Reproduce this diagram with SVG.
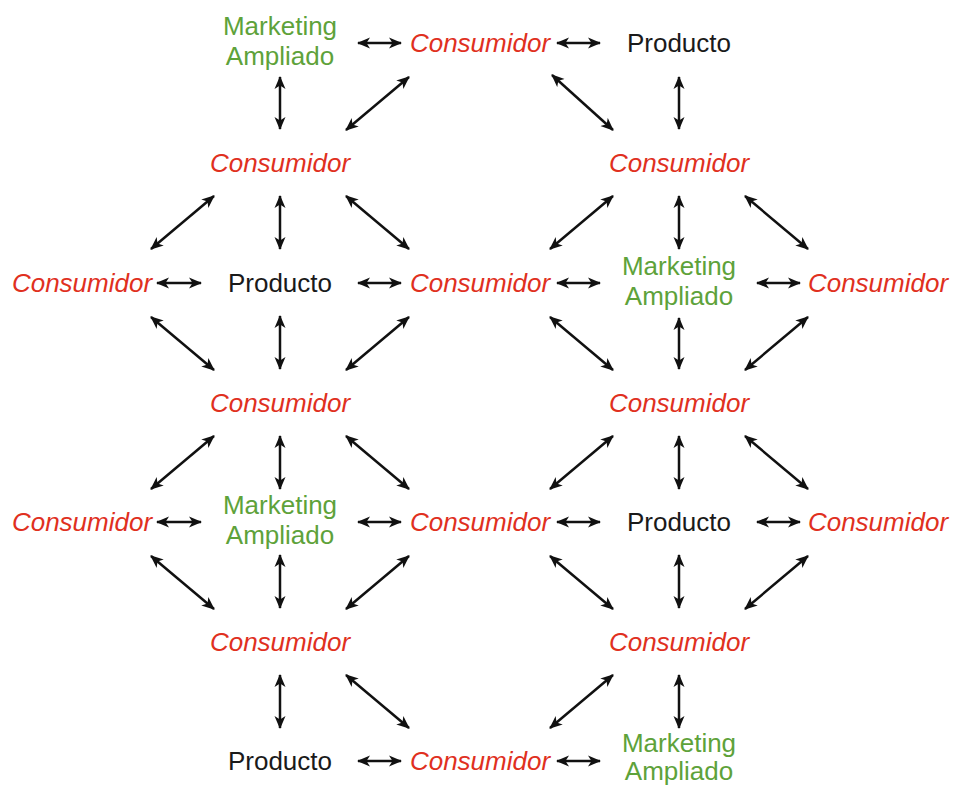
<svg xmlns="http://www.w3.org/2000/svg" width="954" height="787" viewBox="0 0 954 787">
<style>
text{font-family:"Liberation Sans",Arial,sans-serif;font-size:26px;text-anchor:middle}
.c{fill:#e0301e;font-style:italic}
.p{fill:#1a1a1a}
.m{fill:#5ea23a}
.a line{stroke:#111;stroke-width:2.5;marker-start:url(#ah);marker-end:url(#ah)}
</style>
<defs>
<marker id="ah" markerUnits="userSpaceOnUse" markerWidth="14" markerHeight="12" viewBox="0 0 14 12" refX="12" refY="6" orient="auto-start-reverse">
<path d="M0,0.5 L13,6 L0,11.5 L3.5,6 z" fill="#111"/>
</marker>
</defs>
<rect width="954" height="787" fill="#fff"/>
<g id="connectors" class="a">
<line x1="358" y1="43" x2="401" y2="43"/>
<line x1="557" y1="43" x2="600" y2="43"/>
<line x1="157" y1="283" x2="201" y2="283"/>
<line x1="358" y1="283" x2="401" y2="283"/>
<line x1="557" y1="283" x2="600" y2="283"/>
<line x1="757" y1="283" x2="800" y2="283"/>
<line x1="157" y1="522" x2="201" y2="522"/>
<line x1="358" y1="522" x2="401" y2="522"/>
<line x1="557" y1="522" x2="600" y2="522"/>
<line x1="757" y1="522" x2="800" y2="522"/>
<line x1="358" y1="761" x2="401" y2="761"/>
<line x1="557" y1="761" x2="600" y2="761"/>
<line x1="280" y1="77" x2="280" y2="129"/>
<line x1="280" y1="196" x2="280" y2="249"/>
<line x1="280" y1="316" x2="280" y2="369"/>
<line x1="280" y1="436" x2="280" y2="489"/>
<line x1="280" y1="555" x2="280" y2="608"/>
<line x1="280" y1="675" x2="280" y2="728"/>
<line x1="679" y1="77" x2="679" y2="129"/>
<line x1="679" y1="196" x2="679" y2="249"/>
<line x1="679" y1="318" x2="679" y2="369"/>
<line x1="679" y1="436" x2="679" y2="489"/>
<line x1="679" y1="555" x2="679" y2="608"/>
<line x1="679" y1="675" x2="679" y2="728"/>
<line x1="346" y1="130" x2="409" y2="77"/>
<line x1="214" y1="196" x2="151" y2="249"/>
<line x1="346" y1="196" x2="409" y2="249"/>
<line x1="613" y1="130" x2="552" y2="75"/>
<line x1="613" y1="196" x2="550" y2="249"/>
<line x1="745" y1="196" x2="808" y2="249"/>
<line x1="214" y1="370" x2="151" y2="317"/>
<line x1="346" y1="370" x2="409" y2="317"/>
<line x1="214" y1="436" x2="151" y2="489"/>
<line x1="346" y1="436" x2="409" y2="489"/>
<line x1="613" y1="370" x2="550" y2="317"/>
<line x1="745" y1="370" x2="808" y2="317"/>
<line x1="613" y1="436" x2="550" y2="489"/>
<line x1="745" y1="436" x2="808" y2="489"/>
<line x1="214" y1="609" x2="151" y2="556"/>
<line x1="346" y1="609" x2="409" y2="556"/>
<line x1="346" y1="675" x2="409" y2="728"/>
<line x1="613" y1="609" x2="550" y2="556"/>
<line x1="745" y1="609" x2="808" y2="556"/>
<line x1="613" y1="675" x2="550" y2="728"/>
</g>
<g id="n0a"><text class="m" x="280" y="35">Marketing</text><text class="m" x="280" y="65">Ampliado</text></g>
<g id="n0b"><text class="c" x="480" y="52">Consumidor</text></g>
<g id="n0c"><text class="p" x="679" y="52">Producto</text></g>
<g id="n1a"><text class="c" x="280" y="172">Consumidor</text></g>
<g id="n1b"><text class="c" x="679" y="172">Consumidor</text></g>
<g id="n2a"><text class="c" x="82" y="292">Consumidor</text></g>
<g id="n2b"><text class="p" x="280" y="292">Producto</text></g>
<g id="n2c"><text class="c" x="480" y="292">Consumidor</text></g>
<g id="n2d"><text class="m" x="679" y="275">Marketing</text><text class="m" x="679" y="305">Ampliado</text></g>
<g id="n2e"><text class="c" x="878" y="292">Consumidor</text></g>
<g id="n3a"><text class="c" x="280" y="412">Consumidor</text></g>
<g id="n3b"><text class="c" x="679" y="412">Consumidor</text></g>
<g id="n4a"><text class="c" x="82" y="531">Consumidor</text></g>
<g id="n4b"><text class="m" x="280" y="514">Marketing</text><text class="m" x="280" y="544">Ampliado</text></g>
<g id="n4c"><text class="c" x="480" y="531">Consumidor</text></g>
<g id="n4d"><text class="p" x="679" y="531">Producto</text></g>
<g id="n4e"><text class="c" x="878" y="531">Consumidor</text></g>
<g id="n5a"><text class="c" x="280" y="651">Consumidor</text></g>
<g id="n5b"><text class="c" x="679" y="651">Consumidor</text></g>
<g id="n6a"><text class="p" x="280" y="770">Producto</text></g>
<g id="n6b"><text class="c" x="480" y="770">Consumidor</text></g>
<g id="n6c"><text class="m" x="679" y="752">Marketing</text><text class="m" x="679" y="780">Ampliado</text></g>
</svg>
